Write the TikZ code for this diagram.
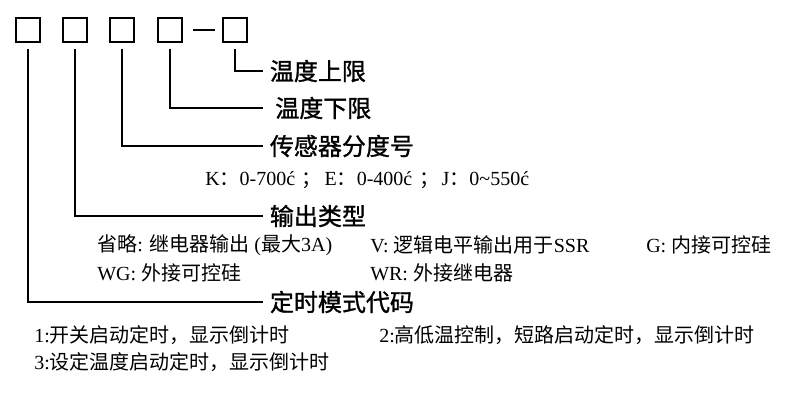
\documentclass[tikz,border=0pt]{standalone}
\usepackage{fontspec}
\setmainfont{Liberation Serif}
\newfontfamily\cjk{Noto Sans CJK SC}
\newfontfamily\cjkhead[FakeBold=1.2]{Noto Sans CJK SC}
\newcommand\zh[1]{{\cjk #1}}

\tikzset{
  box/.style={draw, line width=2.1pt, minimum size=18pt, inner sep=0pt},
  lead/.style={line width=2.1pt, line cap=butt},
  head/.style={anchor=west, inner xsep=5pt, inner ysep=0pt, font=\cjkhead\fontsize{18}{22}\selectfont},
  note/.style={anchor=west, inner sep=0pt, font=\fontsize{15}{18}\selectfont}
}

\begin{document}
\begin{tikzpicture}[x=0.75pt, y=-0.75pt]
\useasboundingbox (0,0) rectangle (800,401);
% Code boxes
\foreach \n/\x in {1/28,2/75,3/122,4/170,5/235}
    \node[box] (b\n) at (\x,30) {};
\draw[lead, shorten <=7.5pt, shorten >=5pt] (b4) -- (b5);
% Headings
\node[head] (h5) at (263,71) {温度上限};
\node[head, inner xsep=9pt] (h4) at (263,108) {温度下限};
\node[head] (h3) at (263,146) {传感器分度号};
\node[head] (h2) at (263,216) {输出类型};
\node[head] (h1) at (263,302) {定时模式代码};
% Leads from boxes to headings
\foreach \n in {1,...,5}
    \draw[lead, shorten <=4.5pt] (b\n.south) |- (h\n.west);
% Notes
\node[note] (k) at (205,180) {K\zh{：}0-700ć\hspace{5pt}\zh{；}\hspace{2pt}E\zh{：}0-400ć\hspace{5pt}\zh{；}\hspace{2pt}J\zh{：}0\string~550ć};
\node[note] (o1) at (97,245) {\zh{省略}: \zh{继电器输出} (\zh{最大}3A)};
\node[note] (o2) at (370,245) {V: \zh{逻辑电平输出用于}SSR};
\node[note] (o3) at (646,245) {G: \zh{内接可控硅}};
\node[note] (o4) at (97,273) {WG: \zh{外接可控硅}};
\node[note] (o5) at (370,273) {WR: \zh{外接继电器}};
\node[note] (t1) at (34,335) {1:\zh{开关启动定时，显示倒计时}};
\node[note] (t2) at (379,335) {2:\zh{高低温控制，短路启动定时，显示倒计时}};
\node[note] (t3) at (34,362) {3:\zh{设定温度启动定时，显示倒计时}};
\end{tikzpicture}
\end{document}
